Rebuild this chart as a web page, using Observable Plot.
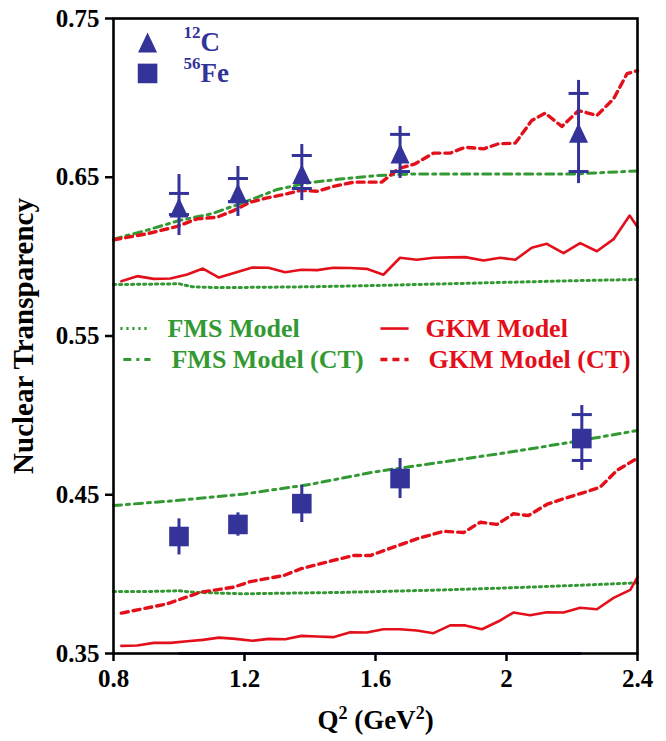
<!DOCTYPE html>
<html>
<head>
<meta charset="utf-8">
<script src="https://cdn.jsdelivr.net/npm/d3@7"></script>
<script src="https://cdn.jsdelivr.net/npm/@observablehq/plot@0.6"></script>
<style>
  html, body { margin: 0; padding: 0; background: white; }
  #chart { width: 666px; height: 741px; }
</style>
</head>
<body>
<div id="chart"></div>
<script>
// ---------- Data ----------
const xTicks = [0.8, 1.2, 1.6, 2, 2.4];
const yTicks = [0.35, 0.45, 0.55, 0.65, 0.75];

// 12C data (triangles)
const cQ2    = [1.0, 1.18, 1.375, 1.675, 2.22];
const cT     = [0.631, 0.640, 0.652, 0.665, 0.678];
const cLo    = [0.6133, 0.6253, 0.6353, 0.6492, 0.646];
const cHi    = [0.6517, 0.6568, 0.6706, 0.682, 0.711];
const cCapLo = [0.6265, 0.6347, 0.6429, 0.6536, 0.6536];
const cCapHi = [0.6398, 0.6492, 0.6637, 0.677, 0.7028];

// 56Fe data (squares)
const feQ2    = [1.0, 1.18, 1.375, 1.675, 2.23];
const feT     = [0.4237, 0.4313, 0.4444, 0.4602, 0.4854];
const feLo    = [0.4121, 0.4239, 0.4325, 0.4476, 0.4653];
const feHi    = [0.4348, 0.4386, 0.4558, 0.4728, 0.5062];
const feCapLo = [null, null, null, null, 0.4716];
const feCapHi = [null, null, null, null, 0.5005];

// FMS model, 12C
const fmsCQ2 = [0.8, 0.9, 1.0, 1.04, 1.1, 1.2, 1.4, 1.6, 1.8, 2.0, 2.2, 2.4];
const fmsCT  = [0.5824, 0.5826, 0.5829, 0.5810, 0.5806, 0.5806, 0.5810, 0.5818, 0.5828, 0.5838, 0.5848, 0.5856];
// FMS model (CT), 12C
const fmsCtCQ2 = [0.8, 0.9, 1.0, 1.1, 1.2, 1.3, 1.4, 1.5, 1.6, 1.7, 1.8, 2.0, 2.2, 2.4];
const fmsCtCT  = [0.611, 0.6165, 0.6227, 0.627, 0.6343, 0.6423, 0.6467, 0.649, 0.651, 0.652, 0.652, 0.652, 0.652, 0.654];
// GKM model, 12C
const gkmCQ2 = [0.824, 0.872, 0.923, 0.974, 1.025, 1.073, 1.122, 1.173, 1.224, 1.273, 1.324, 1.374, 1.422, 1.471,
                1.523, 1.573, 1.624, 1.675, 1.726, 1.777, 1.828, 1.874, 1.93, 1.981, 2.027, 2.077, 2.123, 2.174,
                2.225, 2.276, 2.327, 2.376, 2.4];
const gkmCT  = [0.5845, 0.5877, 0.586, 0.5862, 0.5887, 0.5925, 0.5868, 0.590, 0.5931, 0.593, 0.5902, 0.5917, 0.5915, 0.593,
                0.5928, 0.5923, 0.5886, 0.5993, 0.598, 0.5993, 0.5995, 0.5997, 0.5976, 0.5993, 0.598, 0.6056, 0.6081, 0.6022,
                0.6085, 0.6034, 0.611, 0.6259, 0.6186];
// GKM model (CT), 12C
const gkmCtCQ2 = [0.801, 0.903, 0.994, 1.055, 1.116, 1.167, 1.218, 1.269, 1.32, 1.371, 1.422, 1.471, 1.533, 1.619,
                  1.67, 1.721, 1.777, 1.828, 1.874, 1.93, 1.976, 2.027, 2.077, 2.118, 2.169, 2.22, 2.276, 2.327, 2.368, 2.4];
const gkmCtCT  = [0.6106, 0.6144, 0.619, 0.6238, 0.6248, 0.629, 0.6343, 0.637, 0.6391, 0.6417, 0.6412, 0.6442, 0.6469, 0.6469,
                  0.6553, 0.6585, 0.6652, 0.6652, 0.6689, 0.6679, 0.6711, 0.6715, 0.6857, 0.6904, 0.682, 0.692, 0.6889, 0.6994, 0.7152, 0.7172];

// FMS model, 56Fe
const fmsFeQ2 = [0.8, 0.9, 1.0, 1.05, 1.2, 1.5, 1.8, 2.0, 2.2, 2.4];
const fmsFeT  = [0.389, 0.389, 0.3895, 0.3885, 0.3876, 0.3885, 0.3900, 0.3913, 0.3928, 0.3945];
// FMS model (CT), 56Fe
const fmsCtFeQ2 = [0.8, 1.0, 1.2, 1.4, 1.6, 1.8, 2.0, 2.2, 2.4];
const fmsCtFeT  = [0.4432, 0.4465, 0.4505, 0.4565, 0.4645, 0.4705, 0.4765, 0.4832, 0.4905];
// GKM model, 56Fe
const gkmFeQ2 = [0.824, 0.872, 0.923, 0.974, 1.025, 1.073, 1.122, 1.173, 1.224, 1.273, 1.324, 1.374, 1.422, 1.471,
                 1.523, 1.573, 1.624, 1.675, 1.726, 1.777, 1.828, 1.874, 1.925, 1.976, 2.021, 2.072, 2.123, 2.174,
                 2.225, 2.276, 2.327, 2.378, 2.4];
const gkmFeT  = [0.3548, 0.355, 0.3567, 0.3567, 0.3577, 0.3586, 0.360, 0.3592, 0.358, 0.3592, 0.359, 0.3611, 0.3607, 0.3603,
                 0.3634, 0.3632, 0.3653, 0.3653, 0.3645, 0.3628, 0.3677, 0.3677, 0.3653, 0.3703, 0.3758, 0.3741, 0.376, 0.3758,
                 0.3788, 0.3779, 0.385, 0.3901, 0.3981];
// GKM model (CT), 56Fe
const gkmCtFeQ2 = [0.824, 0.964, 1.066, 1.167, 1.218, 1.32, 1.371, 1.471, 1.533, 1.584, 1.655, 1.726, 1.808, 1.869,
                   1.92, 1.971, 2.021, 2.067, 2.123, 2.164, 2.256, 2.286, 2.337, 2.393, 2.4];
const gkmCtFeT  = [0.3754, 0.3813, 0.3886, 0.3918, 0.3953, 0.3991, 0.4033, 0.4086, 0.4117, 0.4117, 0.417, 0.4222, 0.427, 0.4262,
                   0.4327, 0.4313, 0.438, 0.4369, 0.4439, 0.4468, 0.4527, 0.4548, 0.4653, 0.4722, 0.4722];

// Legend labels
const targetLabels = [["12", "C"], ["56", "Fe"]];
const modelLabels = ["FMS Model", "FMS Model (CT)", "GKM Model", "GKM Model (CT)"];
const yLabel = "Nuclear Transparency";
const xLabelParts = [["Q", false], ["2", true], [" (GeV", false], ["2", true], [")", false]];

// ---------- Styles ----------
const BLUE = "#333399", GREEN = "#339933", RED = "#e3101b";
const FONT = "'Liberation Serif', 'Times New Roman', Times, serif";

// custom symbols
const triSym = { draw(ctx, size) { const r = Math.sqrt(size / Math.PI);
  ctx.moveTo(0, -r); ctx.lineTo(0.95 * r, r); ctx.lineTo(-0.95 * r, r); ctx.closePath(); } };
const sqSym = { draw(ctx, size) { const r = Math.sqrt(size / Math.PI);
  ctx.rect(-r, -r, 2 * r, 2 * r); } };
const capSym = { draw(ctx, size) { const r = Math.sqrt(size / Math.PI);
  ctx.moveTo(-r, 0); ctx.lineTo(r, 0); } };

const idx = a => a.map((_, i) => i);
const lineMark = (q, t, opts) => Plot.line(idx(q), {x: i => q[i], y: i => t[i], ...opts});

const fmsStyle   = {stroke: GREEN, strokeWidth: 3, strokeDasharray: "2.2,3.8"};
const fmsCtStyle = {stroke: GREEN, strokeWidth: 3, strokeDasharray: "8,5,3,5"};
const gkmStyle   = {stroke: RED, strokeWidth: 2.6};
const gkmCtStyle = {stroke: RED, strokeWidth: 3.4, strokeDasharray: "7,5"};

const capData = (q, lo, hi) => {
  const out = [];
  q.forEach((x, i) => { if (lo[i] != null) out.push({x, y: lo[i]}); if (hi[i] != null) out.push({x, y: hi[i]}); });
  return out;
};

const chart = Plot.plot({
  width: 666, height: 741,
  marginLeft: 113, marginRight: 29, marginTop: 18, marginBottom: 88,
  x: {domain: [0.8, 2.4]},
  y: {domain: [0.35, 0.75]},
  style: {fontFamily: FONT, fontWeight: "bold", fontSize: "25px", color: "black", background: "white", overflow: "visible"},
  marks: [
    // model curves
    lineMark(fmsCQ2, fmsCT, fmsStyle),
    lineMark(fmsCtCQ2, fmsCtCT, fmsCtStyle),
    lineMark(gkmCQ2, gkmCT, gkmStyle),
    lineMark(gkmCtCQ2, gkmCtCT, gkmCtStyle),
    lineMark(fmsFeQ2, fmsFeT, fmsStyle),
    lineMark(fmsCtFeQ2, fmsCtFeT, fmsCtStyle),
    lineMark(gkmFeQ2, gkmFeT, gkmStyle),
    lineMark(gkmCtFeQ2, gkmCtFeT, gkmCtStyle),

    // error bars
    Plot.ruleX(idx(cQ2), {x: i => cQ2[i], y1: i => cLo[i], y2: i => cHi[i], stroke: BLUE, strokeWidth: 3}),
    Plot.ruleX(idx(feQ2), {x: i => feQ2[i], y1: i => feLo[i], y2: i => feHi[i], stroke: BLUE, strokeWidth: 3}),
    Plot.dot(capData(cQ2, cCapLo, cCapHi), {x: "x", y: "y", symbol: capSym, r: 10, stroke: BLUE, strokeWidth: 3, fill: "none"}),
    Plot.dot(capData(feQ2, feCapLo, feCapHi), {x: "x", y: "y", symbol: capSym, r: 10, stroke: BLUE, strokeWidth: 3, fill: "none"}),

    // data markers
    Plot.dot(idx(cQ2), {x: i => cQ2[i], y: i => cT[i], symbol: triSym, r: 10, fill: BLUE, stroke: "none"}),
    Plot.dot(idx(feQ2), {x: i => feQ2[i], y: i => feT[i], symbol: sqSym, r: 9.8, fill: BLUE, stroke: "none"}),

    // blue base line spanning the data range
    Plot.ruleY([0.35], {x1: d3.min(feQ2), x2: d3.max(feQ2), stroke: BLUE, strokeWidth: 3}),

    // frame
    Plot.frame({stroke: "black", strokeWidth: 2.6}),

    // axes
    Plot.axisY(yTicks, {tickSize: 8, tickPadding: 6, strokeWidth: 2.5, tickFormat: d => d.toFixed(2), label: null, fontSize: 25}),
    Plot.axisX(xTicks, {tickSize: 8, tickPadding: 8, strokeWidth: 2.5, tickFormat: d => String(d), label: null, fontSize: 25}),

    // axis titles
    Plot.text([yLabel], {frameAnchor: "left", dx: -90, rotate: -90, fontSize: 29, fill: "black", textAnchor: "middle", lineAnchor: "middle"}),
    Plot.text(["Q2 (GeV2)"], {frameAnchor: "bottom", dy: 67, fontSize: 27, fill: "black", textAnchor: "middle", lineAnchor: "middle", className: "xlabel"}),

    // target legend (top-left)
    Plot.dot([0], {x: 0.904, y: 0.7349, symbol: triSym, r: 10, fill: BLUE}),
    Plot.dot([0], {x: 0.904, y: 0.7154, symbol: sqSym, r: 9.8, fill: BLUE}),
    Plot.text([targetLabels[0][0]], {x: 0.904, y: 0.7349, dx: 36, dy: -10, textAnchor: "start", fontSize: 17, fill: BLUE}),
    Plot.text([targetLabels[0][1]], {x: 0.904, y: 0.7349, dx: 53, textAnchor: "start", fontSize: 27, fill: BLUE}),
    Plot.text([targetLabels[1][0]], {x: 0.904, y: 0.7154, dx: 36, dy: -10, textAnchor: "start", fontSize: 17, fill: BLUE}),
    Plot.text([targetLabels[1][1]], {x: 0.904, y: 0.7154, dx: 53, textAnchor: "start", fontSize: 27, fill: BLUE}),

    // model legend
    Plot.link([0], {x1: 0.821, x2: 0.913, y1: 0.5547, y2: 0.5547, ...fmsStyle}),
    Plot.link([0], {x1: 0.83, x2: 0.913, y1: 0.5352, y2: 0.5352, ...fmsCtStyle}),
    Plot.link([0], {x1: 1.615, x2: 1.701, y1: 0.5547, y2: 0.5547, ...gkmStyle}),
    Plot.link([0], {x1: 1.615, x2: 1.701, y1: 0.5352, y2: 0.5352, ...gkmCtStyle}),
    Plot.text([modelLabels[0]], {x: 0.965, y: 0.5547, textAnchor: "start", fontSize: 26, fill: GREEN}),
    Plot.text([modelLabels[1]], {x: 0.977, y: 0.5352, textAnchor: "start", fontSize: 26, fill: GREEN}),
    Plot.text([modelLabels[2]], {x: 1.753, y: 0.5547, textAnchor: "start", fontSize: 26, fill: RED}),
    Plot.text([modelLabels[3]], {x: 1.762, y: 0.5352, textAnchor: "start", fontSize: 26, fill: RED})
  ]
});

// superscripts in the x-axis title
const xl = chart.querySelector(".xlabel text");
if (xl) {
  xl.textContent = "";
  const NS = "http://www.w3.org/2000/svg";
  let raised = false;
  for (const [txt, sup] of xLabelParts) {
    const ts = document.createElementNS(NS, "tspan");
    ts.textContent = txt;
    if (sup) { ts.setAttribute("font-size", "18"); ts.setAttribute("dy", "-10"); raised = true; }
    else if (raised) { ts.setAttribute("dy", "10"); raised = false; }
    xl.appendChild(ts);
  }
}
document.getElementById("chart").appendChild(chart);
</script>
</body>
</html>
